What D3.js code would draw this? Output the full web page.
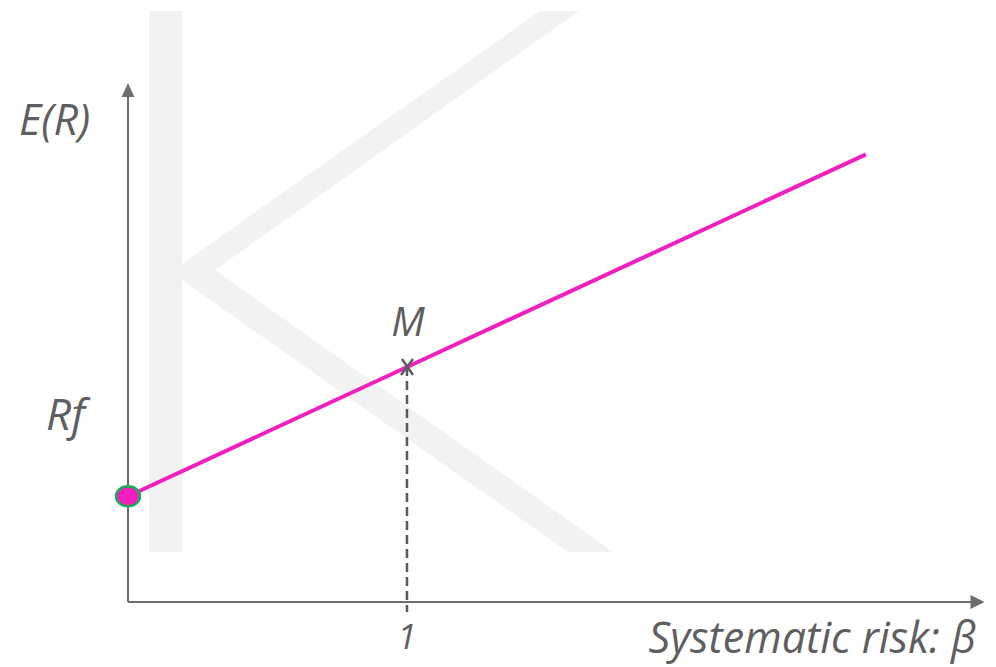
<!DOCTYPE html>
<html>
<head>
<meta charset="utf-8">
<script src="https://cdn.jsdelivr.net/npm/d3@7"></script>
<style>
  html, body { margin: 0; padding: 0; background: #ffffff; }
  svg { display: block; }
  .lbl { font-family: "Open Sans", "Noto Sans", sans-serif; font-style: italic; fill: #5f5f5f; }
</style>
</head>
<body>
<svg id="chart" width="996" height="667"></svg>
<script>
// Security market line: beta vs expected return
const smlBeta   = [0, 1, 2.645];
const smlReturn = [4.5, 10, 19.05];
const riskFree  = { beta: 0, ret: 4.5 };
const market    = { beta: 1, ret: 10 };
const xTicks    = [1];
const xTickLabels = ["1"];
const yAxisTitle = "E(R)";
const xAxisTitle = "Systematic risk: β";
const rfLabel = "Rf";
const marketLabel = "M";

const svg = d3.select("#chart");

const x = d3.scaleLinear().domain([0, 3.07]).range([128, 984.5]);
const y = d3.scaleLinear().domain([0, 22.09]).range([602, 83]);

// Faint "K" watermark in the background
const wm = svg.append("g").attr("fill", "#f2f2f3");
wm.append("rect").attr("x", 149).attr("y", 11).attr("width", 33).attr("height", 541);
wm.append("polygon").attr("points", [[540,11],[579,11],[215,270],[613,552],[568,552],[182,280],[182,264]].map(p => p.join(",")).join(" "));

const axisColor = "#6e6e6e";

// Axes drawn with d3.axis, domain lines extended to arrowheads
const xAxis = d3.axisBottom(x).tickValues(xTicks).tickSize(0).tickFormat(() => "");
const gx = svg.append("g").attr("transform", `translate(0,${y(0)})`).call(xAxis);
gx.select(".domain").attr("d", `M${x(0)},0H${x(3.07) - 12}`).attr("stroke", axisColor).attr("stroke-width", 2);

const yAxis = d3.axisLeft(y).tickValues([]).tickSize(0);
const gy = svg.append("g").attr("transform", `translate(${x(0)},0)`).call(yAxis);
gy.select(".domain").attr("d", `M0,${y(0)}V${y(22.09) + 12}`).attr("stroke", axisColor).attr("stroke-width", 2);

// Arrowheads
svg.append("path")
  .attr("d", `M${x(3.07)},${y(0)} L${x(3.07) - 14},${y(0) - 7} L${x(3.07) - 14},${y(0) + 7} Z`)
  .attr("fill", axisColor);
svg.append("path")
  .attr("d", `M${x(0)},${y(22.09)} L${x(0) - 6.5},${y(22.09) + 14} L${x(0) + 6.5},${y(22.09) + 14} Z`)
  .attr("fill", axisColor);

// Dashed drop line from M to the beta axis
svg.append("line")
  .attr("x1", x(market.beta)).attr("x2", x(market.beta))
  .attr("y1", y(market.ret)).attr("y2", y(0) + 10)
  .attr("stroke", "#5a5a5a").attr("stroke-width", 2.5).attr("stroke-dasharray", "9,5");

// SML
const line = d3.line().x(d => x(d[0])).y(d => y(d[1]));
svg.append("path")
  .datum(smlBeta.map((b, i) => [b, smlReturn[i]]))
  .attr("d", line)
  .attr("fill", "none")
  .attr("stroke", "#f01fbe")
  .attr("stroke-width", 4);

// Risk-free point
svg.append("ellipse")
  .attr("cx", x(riskFree.beta)).attr("cy", y(riskFree.ret))
  .attr("rx", 12).attr("ry", 10)
  .attr("fill", "#f01fbe").attr("stroke", "#1faa5a").attr("stroke-width", 2.5);

// Market portfolio cross marker
const mx = x(market.beta), my = y(market.ret);
svg.append("path")
  .attr("d", `M${mx - 5},${my - 8} L${mx + 6},${my + 8} M${mx + 6},${my - 8} L${mx - 6},${my + 8}`)
  .attr("stroke", "#5f5f5f").attr("stroke-width", 2.6).attr("fill", "none");

// Labels
svg.append("text").attr("class", "lbl")
  .attr("x", mx + 1).attr("y", 336)
  .attr("text-anchor", "middle").attr("font-size", 40).text(marketLabel);

svg.append("text").attr("class", "lbl")
  .attr("x", 46).attr("y", 430).attr("font-size", 44).text(rfLabel);

svg.append("text").attr("class", "lbl")
  .attr("x", 19).attr("y", 135).attr("font-size", 43).text(yAxisTitle);

svg.selectAll(".xtick-lbl").data(xTicks).enter().append("text")
  .attr("class", "lbl xtick-lbl")
  .attr("x", d => x(d)).attr("y", 649)
  .attr("text-anchor", "middle").attr("font-size", 35)
  .text((d, i) => xTickLabels[i]);

svg.append("text").attr("class", "lbl")
  .attr("x", 976).attr("y", 653)
  .attr("text-anchor", "end").attr("font-size", 43).text(xAxisTitle);
</script>
</body>
</html>
